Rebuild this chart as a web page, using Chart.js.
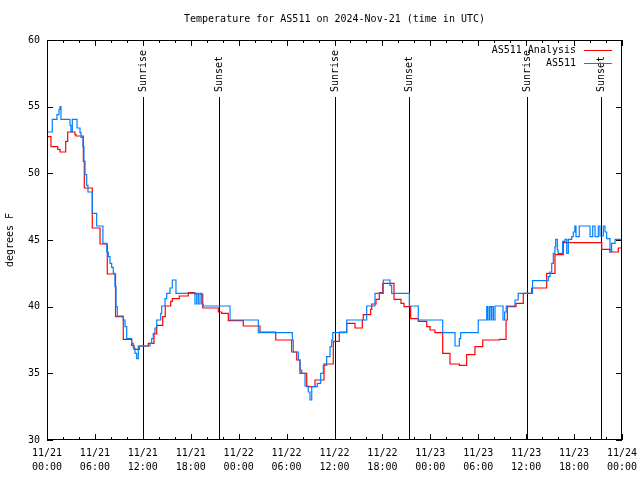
<!DOCTYPE html>
<html>
<head>
<meta charset="utf-8">
<script src="https://cdn.jsdelivr.net/npm/chart.js@4.4.1/dist/chart.umd.min.js"></script>
<style>
  html, body { margin: 0; padding: 0; background: #fff; }
</style>
</head>
<body>
<canvas id="temps" width="640" height="480"></canvas>
<script>
/* ---- data (hours since 11/21 00:00 UTC, deg F) ---- */
const X_DAYS = ["11/21", "11/21", "11/21", "11/21", "11/22", "11/22", "11/22", "11/22", "11/23", "11/23", "11/23", "11/23", "11/24"];
const X_TIMES = ["00:00", "06:00", "12:00", "18:00", "00:00", "06:00", "12:00", "18:00", "00:00", "06:00", "12:00", "18:00", "00:00"];

const SUN_HOURS = [12.0, 21.5, 36.05, 45.3, 60.1, 69.4];
const SUN_LABELS = ["Sunrise", "Sunset", "Sunrise", "Sunset", "Sunrise", "Sunset"];

const OBS_HOURS = [0, 0.66, 1.25, 1.5, 1.63, 1.75, 2.88, 3.0, 3.17, 3.76, 4.13, 4.26, 4.5, 4.63, 4.76, 4.97, 5.13,
  5.67, 6.22, 7.0, 7.48, 7.68, 7.89, 8.1, 8.3, 8.51, 8.64, 8.8, 9.55, 9.77, 9.98, 10.6, 10.8, 11.02, 11.23, 11.43,
  12.9, 13.11, 13.31, 13.52, 13.74, 14.24, 14.36, 14.78, 14.99, 15.4, 15.69, 16.15, 18.53, 18.75, 18.95, 19.16, 19.37, 19.57,
  22.92, 26.46, 30.72, 30.84, 31.47, 31.68, 31.89, 32.31, 32.72, 32.93, 33.15, 33.85, 34.27, 34.6, 35.02, 35.44, 35.65, 35.78,
  37.53, 40.03, 41.07, 42.11, 42.95, 43.16, 45.37, 46.49, 49.55, 51.09, 51.63, 51.8, 54.0, 55.06, 55.2, 55.4, 55.6, 55.7, 55.9,
  56.1, 57.1, 57.3, 57.5, 58.6, 59.0, 60.8, 62.77, 62.99, 63.2, 63.4, 63.6, 63.7, 63.9, 64.0, 64.57, 64.86, 65.08, 65.28,
  65.7, 65.9, 66.1, 66.24, 66.65, 68.0, 68.33, 68.62, 69.03, 69.24, 69.66, 69.87, 70.08, 70.5, 70.7, 71.13, 72];
const OBS_TEMPS = [53.1, 54.05, 54.4, 54.8, 55.0, 54.05, 53.6, 53.1, 54.05, 53.4, 53.05, 52.7, 52.0, 50.9, 49.9, 49.1, 48.6,
  47.0, 46.05, 44.75, 44.1, 43.75, 43.25, 42.95, 42.5, 41.5, 40.0, 39.3, 39.0, 38.5, 37.6, 37.25, 36.9, 36.5, 36.1, 37.05,
  37.25, 37.6, 38.0, 38.4, 39.0, 39.5, 40.05, 40.6, 41.0, 41.4, 42.0, 41.0, 40.2, 41.0, 40.2, 41.0, 40.2, 40.05,
  39.0, 38.05, 37.5, 36.6, 36.0, 35.25, 35.0, 34.05, 33.6, 33.0, 34.0, 34.25, 35.0, 35.6, 36.25, 37.0, 37.5, 38.05,
  39.0, 40.05, 41.0, 42.0, 41.6, 41.0, 40.05, 39.0, 38.05, 37.05, 37.6, 38.05, 39.0, 40.0, 39.0, 40.0, 39.0, 40.0, 39.0,
  40.05, 39.0, 39.6, 40.05, 40.5, 41.0, 41.95, 42.25, 42.6, 43.25, 44.0, 44.5, 45.05, 44.25, 44.0, 44.9, 45.05, 44.0, 45.05,
  45.25, 45.6, 46.05, 45.25, 46.05, 45.25, 46.05, 45.25, 46.05, 45.3, 46.05, 45.6, 45.1, 44.1, 44.75, 45.05, 45.05];

const ANA_HOURS = [0, 0.5, 1.34, 1.63, 2.34, 2.59, 3.5, 3.63, 4.55, 4.67, 5.67, 6.64, 7.55, 8.58, 9.55, 10.6, 10.9, 11.56,
  12.68, 13.4, 13.74, 14.49, 14.81, 15.49, 15.69, 16.57, 17.69, 18.53, 19.5, 21.45, 21.88, 22.7, 24.58, 26.67, 28.64,
  30.64, 31.27, 31.68, 32.52, 33.56, 34.69, 35.85, 36.6, 37.53, 38.57, 39.48, 39.6, 40.53, 40.66, 41.2, 41.61, 42.04,
  43.45, 44.33, 44.7, 45.54, 46.49, 47.55, 47.96, 48.58, 49.55, 50.46, 51.63, 52.55, 53.59, 54.56, 56.64, 57.48, 57.64,
  58.73, 59.64, 60.69, 62.57, 63.61, 64.65, 69.46, 70.5, 71.54, 72];
const ANA_TEMPS = [52.75, 52.0, 51.8, 51.6, 52.4, 53.1, 52.9, 52.8, 50.9, 48.9, 45.9, 44.7, 42.45, 39.25, 37.55, 37.1, 36.8, 37.05,
  37.25, 37.95, 38.6, 39.25, 40.05, 40.4, 40.6, 40.8, 41.05, 40.95, 39.9, 39.6, 39.5, 38.95, 38.55, 38.1, 37.5,
  36.6, 36.0, 35.0, 34.0, 34.5, 35.7, 37.4, 38.1, 38.75, 38.4, 39.0, 39.4, 39.8, 40.2, 40.55, 41.05, 41.75,
  40.55, 40.25, 40.0, 39.1, 38.9, 38.5, 38.25, 38.05, 36.5, 35.7, 35.6, 36.4, 37.0, 37.5, 37.55, 39.0, 40.0,
  40.25, 41.0, 41.4, 42.5, 43.9, 44.8, 44.3, 44.1, 44.4, 44.4];

const RED = "#ff0000";
const BLUE = "#0080ff";
const FONT = "'DejaVu Sans Mono', monospace";

const pts = (xs, ys) => xs.map((x, i) => ({ x, y: ys[i] }));

/* ---- gnuplot-ish frame, ticks, labels, legend ---- */
const decorations = {
  id: "decorations",
  beforeDatasetsDraw(chart) {
    const { ctx, chartArea: a, scales: { x } } = chart;
    ctx.save();
    ctx.strokeStyle = "#000";
    ctx.lineWidth = 1;
    ctx.fillStyle = "#000";
    ctx.font = "10px " + FONT;
    SUN_HOURS.forEach((h, i) => {
      const px = Math.round(x.getPixelForValue(h)) + 0.5;
      ctx.beginPath();
      ctx.moveTo(px, 97);
      ctx.lineTo(px, a.bottom);
      ctx.stroke();
      ctx.save();
      ctx.translate(px, 92);
      ctx.rotate(-Math.PI / 2);
      ctx.textAlign = "left";
      ctx.textBaseline = "middle";
      ctx.fillText(SUN_LABELS[i], 0, 0);
      ctx.restore();
    });
    ctx.restore();
  },
  afterDraw(chart) {
    const { ctx, chartArea: a, scales: { x, y } } = chart;
    ctx.save();
    ctx.strokeStyle = "#000";
    ctx.lineWidth = 1;
    ctx.strokeRect(a.left + 0.5, a.top + 0.5, a.right - a.left - 1, a.bottom - a.top - 1);
    ctx.beginPath();
    for (let h = 0; h <= 72; h += 2) {
      const px = Math.round(x.getPixelForValue(h)) + 0.5;
      const len = h % 6 === 0 ? 6 : 3;
      ctx.moveTo(px, a.bottom); ctx.lineTo(px, a.bottom - len);
      ctx.moveTo(px, a.top); ctx.lineTo(px, a.top + len);
    }
    for (let v = 30; v <= 60; v += 5) {
      const py = Math.round(y.getPixelForValue(v)) + 0.5;
      ctx.moveTo(a.left, py); ctx.lineTo(a.left + 6, py);
      ctx.moveTo(a.right, py); ctx.lineTo(a.right - 6, py);
    }
    ctx.stroke();

    ctx.fillStyle = "#000";
    ctx.font = "10px " + FONT;
    ctx.textAlign = "center";
    ctx.textBaseline = "middle";
    ctx.fillText("Temperature for AS511 on 2024-Nov-21 (time in UTC)", (a.left + a.right) / 2, 19);

    ctx.save();
    ctx.translate(10, (a.top + a.bottom) / 2);
    ctx.rotate(-Math.PI / 2);
    ctx.fillText("degrees F", 0, 0);
    ctx.restore();

    // legend: text right-aligned, sample line to the right
    const rows = [["AS511 Analysis", RED, 50], ["AS511", BLUE, 63]];
    ctx.textAlign = "right";
    rows.forEach(([label, color, ly]) => {
      ctx.fillStyle = "#000";
      ctx.fillText(label, 576, ly);
      ctx.strokeStyle = color;
      ctx.beginPath();
      ctx.moveTo(584, ly + 0.5);
      ctx.lineTo(612, ly + 0.5);
      ctx.stroke();
    });
    ctx.restore();
  },
};

Chart.defaults.font.family = FONT;
Chart.defaults.font.size = 10;
Chart.defaults.color = "#000";

new Chart(document.getElementById("temps").getContext("2d"), {
  type: "line",
  data: {
    datasets: [
      { label: "AS511 Analysis", data: pts(ANA_HOURS, ANA_TEMPS), borderColor: RED, borderWidth: 1.2, stepped: true, pointRadius: 0, order: 2 },
      { label: "AS511", data: pts(OBS_HOURS, OBS_TEMPS), borderColor: BLUE, borderWidth: 1.2, stepped: true, pointRadius: 0, order: 1 },
    ],
  },
  options: {
    responsive: false, animation: false, devicePixelRatio: 1,
    layout: { padding: { top: 40, right: 18, left: 0, bottom: 0 } },
    plugins: { legend: { display: false }, tooltip: { enabled: false } },
    scales: {
      x: {
        type: "linear", min: 0, max: 72,
        grid: { display: false, drawTicks: false }, border: { display: false },
        afterFit: (s) => { s.height = 40; s.paddingLeft = 0; s.paddingRight = 0; },
        ticks: {
          stepSize: 6, autoSkip: false, maxRotation: 0, padding: 6,
          font: { size: 10, lineHeight: 1.4 },
          callback: (v) => { const i = Math.round(v / 6); return [X_DAYS[i], X_TIMES[i]]; },
        },
      },
      y: {
        min: 30, max: 60,
        grid: { display: false, drawTicks: false }, border: { display: false },
        afterFit: (s) => { s.width = 47; s.paddingTop = 0; s.paddingBottom = 0; },
        ticks: { stepSize: 5, padding: 7 },
      },
    },
  },
  plugins: [decorations],
});
</script>
</body>
</html>
